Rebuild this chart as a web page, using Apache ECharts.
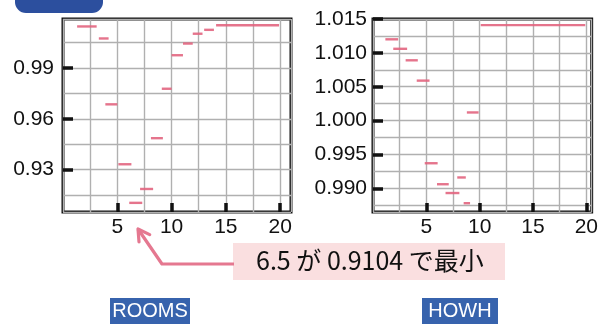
<!DOCTYPE html>
<html>
<head>
<meta charset="utf-8">
<script src="https://cdn.jsdelivr.net/npm/echarts@6/dist/echarts.min.js"></script>
<style>
  html, body { margin: 0; padding: 0; background: #ffffff; }
  #chart { width: 601px; height: 324px; }
</style>
</head>
<body>
<div id="chart"></div>
<script>
// ROOMS: impurity after splitting at each candidate threshold (interval start, end, value)
const roomsFrom  = [1.3, 3.3, 3.9, 5.1, 6.1, 7.1, 8.1, 9.1, 10.0, 11.05, 11.95, 13.0, 14.1];
const roomsTo    = [3.1, 4.2, 5.0, 6.3, 7.3, 8.3, 9.2, 10.0, 11.05, 11.95, 12.85, 13.9, 19.9];
const roomsValue = [1.0146, 1.0075, 0.9686, 0.9332, 0.9104, 0.9186, 0.9486, 0.9778, 0.9976, 1.0045, 1.0103, 1.0126, 1.0153];
const roomsBestSplit = 6.5;

// HOWH: same measure for the second variable
const howhFrom  = [1.16, 1.9, 3.06, 4.1, 4.85, 6.0, 6.8, 7.9, 8.5, 8.8, 10.1];
const howhTo    = [2.36, 3.2, 4.2, 5.3, 6.06, 7.1, 8.1, 8.7, 9.1, 9.9, 19.9];
const howhValue = [1.0120, 1.0106, 1.0089, 1.0059, 0.9937, 0.9906, 0.9893, 0.9916, 0.9878, 1.0012, 1.0141];

// Axis tick labels
const xTicks = [5, 10, 15, 20];
const roomsYTicks = [0.93, 0.96, 0.99];
const howhYTicks = [0.990, 0.995, 1.000, 1.005, 1.010, 1.015];

const panelNames = ['ROOMS', 'HOWH'];

const FONT = '"Liberation Sans", Arial, Helvetica, sans-serif';
const JP_FONT = '"Noto Sans CJK JP", "Liberation Sans", sans-serif';
const MARK = '#e2657f';
const GRIDLINE = '#b0b0b0';
const INK = '#111111';
const BLUE = '#3763ad';

function segments(from, to, value) {
  return from.map((f, i) => [f, to[i], value[i]]);
}

function segmentSeries(data, axisIndex) {
  return {
    type: 'custom',
    xAxisIndex: axisIndex,
    yAxisIndex: axisIndex,
    data: data,
    encode: { x: [0, 1], y: 2 },
    clip: true,
    z: 5,
    renderItem: function (params, api) {
      const a = api.coord([api.value(0), api.value(2)]);
      const b = api.coord([api.value(1), api.value(2)]);
      return {
        type: 'line',
        shape: { x1: a[0], y1: a[1], x2: b[0], y2: b[1] },
        style: { stroke: MARK, lineWidth: 2.4, opacity: 0.9 }
      };
    }
  };
}

function labelXAxis(grid, max) {
  return {
    type: 'value', gridIndex: grid, min: 0, max: max, position: 'bottom',
    axisLine: { show: false },
    splitLine: { show: false },
    axisTick: { show: true, inside: true, length: 9, customValues: xTicks,
      lineStyle: { color: INK, width: 3.5 } },
    axisLabel: { customValues: xTicks, color: INK, fontFamily: FONT, fontSize: 21, margin: 5 }
  };
}
function gridXAxis(grid, max) {
  return {
    type: 'value', gridIndex: grid, min: 0, max: max, interval: 2.5, position: 'top',
    axisLine: { show: false }, axisTick: { show: false }, axisLabel: { show: false },
    splitLine: { show: true, lineStyle: { color: GRIDLINE, width: 1.4 } }
  };
}
function labelYAxis(grid, min, max, ticks, digits, margin) {
  return {
    type: 'value', gridIndex: grid, min: min, max: max, position: 'left',
    axisLine: { show: false },
    splitLine: { show: false },
    axisTick: { show: true, inside: true, length: 10, customValues: ticks,
      lineStyle: { color: INK, width: 3.5 } },
    axisLabel: { customValues: ticks, color: INK, fontFamily: FONT, fontSize: 21, margin: margin,
      formatter: v => v.toFixed(digits) }
  };
}
function gridYAxis(grid, min, max, step) {
  return {
    type: 'value', gridIndex: grid, min: min, max: max, position: 'right',
    minInterval: step, maxInterval: step, splitNumber: 8,
    axisLine: { show: false }, axisTick: { show: false }, axisLabel: { show: false },
    splitLine: { show: true, lineStyle: { color: GRIDLINE, width: 1.4 } }
  };
}

const chart = echarts.init(document.getElementById('chart'), null, { renderer: 'canvas' });

// Annotation: best ROOMS split
const minRooms = Math.min.apply(null, roomsValue);
const noteText = roomsBestSplit + ' が ' + minRooms.toFixed(4) + ' で最小';

// Arrow geometry (elbow line into an open arrowhead)
const arrowPts = [[234, 264], [162, 264], [138, 229]];
const tip = arrowPts[2], prev = arrowPts[1];
const ang = Math.atan2(tip[1] - prev[1], tip[0] - prev[0]);
const headLen = 13, spread = Math.PI / 6;
const head = [
  [tip[0] - headLen * Math.cos(ang - spread), tip[1] - headLen * Math.sin(ang - spread)],
  tip,
  [tip[0] - headLen * Math.cos(ang + spread), tip[1] - headLen * Math.sin(ang + spread)]
];

chart.setOption({
  animation: false,
  backgroundColor: '#ffffff',
  grid: [
    { left: 63, top: 19, width: 228, height: 193, show: true, borderColor: INK, borderWidth: 3, backgroundColor: 'transparent' },
    { left: 373, top: 19, width: 222, height: 193, show: true, borderColor: INK, borderWidth: 3, backgroundColor: 'transparent' }
  ],
  xAxis: [
    labelXAxis(0, 21), gridXAxis(0, 21),
    labelXAxis(1, 20.5), gridXAxis(1, 20.5)
  ],
  yAxis: [
    labelYAxis(0, 0.905, 1.019, roomsYTicks, 2, 9), gridYAxis(0, 0.905, 1.019, 0.015),
    labelYAxis(1, 0.9865, 1.015, howhYTicks, 3, 6), gridYAxis(1, 0.9865, 1.015, 0.0025)
  ],
  series: [
    segmentSeries(segments(roomsFrom, roomsTo, roomsValue), 0),
    segmentSeries(segments(howhFrom, howhTo, howhValue), 2)
  ],
  graphic: [
    // header badge, cut at the top edge
    { type: 'rect', shape: { x: 15, y: -20, width: 88, height: 33, r: 11 }, style: { fill: '#2c4f9e' } },
    // annotation box and arrow
    { type: 'rect', shape: { x: 233, y: 243, width: 272, height: 37 }, style: { fill: '#fadfe0' } },
    { type: 'text', x: 256, y: 260, style: { text: noteText, font: '25px ' + JP_FONT, fill: INK, verticalAlign: 'middle' } },
    { type: 'polyline', shape: { points: arrowPts }, style: { stroke: '#e57890', lineWidth: 3.2, fill: null, lineJoin: 'round' } },
    { type: 'polyline', shape: { points: head }, style: { stroke: '#e57890', lineWidth: 3.2, fill: null, lineJoin: 'round', lineCap: 'round' } },
    // panel name tags
    { type: 'rect', shape: { x: 110, y: 298, width: 80, height: 26 }, style: { fill: BLUE } },
    { type: 'text', x: 150, y: 311, style: { text: panelNames[0], font: '20px ' + FONT, fill: '#ffffff', align: 'center', verticalAlign: 'middle' } },
    { type: 'rect', shape: { x: 422, y: 298, width: 76, height: 26 }, style: { fill: BLUE } },
    { type: 'text', x: 460, y: 311, style: { text: panelNames[1], font: '20px ' + FONT, fill: '#ffffff', align: 'center', verticalAlign: 'middle' } }
  ]
});
</script>
</body>
</html>
